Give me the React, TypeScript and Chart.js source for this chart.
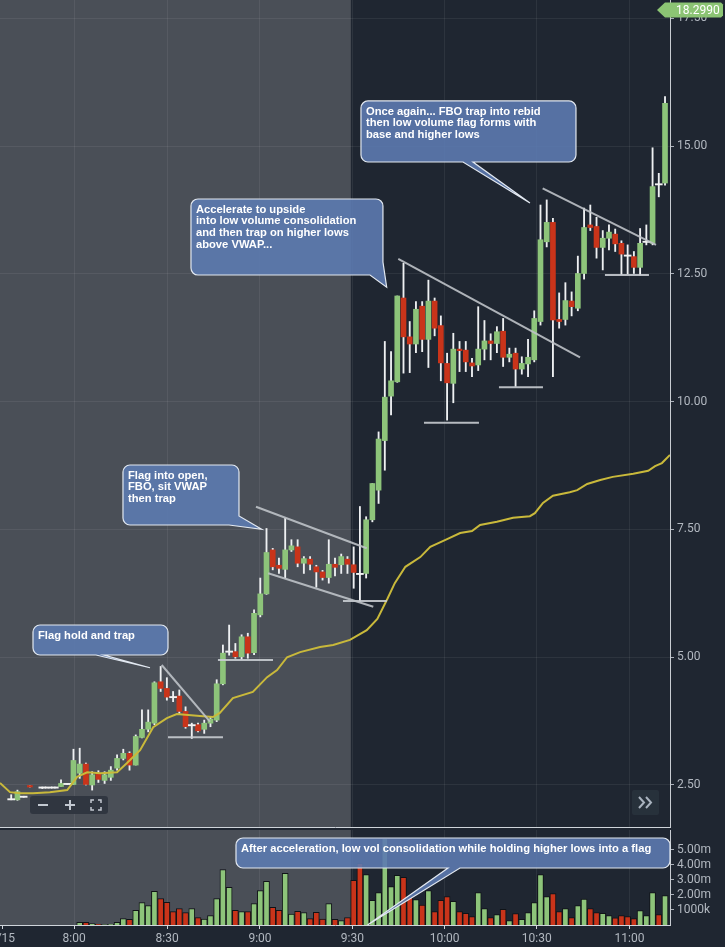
import React, { useEffect, useRef } from "react";
import { Chart, registerables } from "chart.js";

Chart.register(...registerables);

// ---------- DATA (2-minute bars, index 0 = 8:00) ----------
const barIndex = [-10, -9, -8, -7, -5, -4, -3, -2, -1, ...Array.from({ length: 96 }, (_, k) => k)];

const opens = [
  2.22, 2.21, 2.27, 2.49, 2.45, 2.45, 2.45, 2.47, 2.52,
  2.51, 2.73, 2.91, 2.50, 2.73, 2.59, 2.65, 2.83, 3.02, 3.12,
  2.89, 3.43, 3.59, 3.71, 4.52, 4.39, 4.225, 4.24, 3.94, 3.665,
  3.68, 3.59, 3.71, 3.77, 4.48, 5.105, 5.11, 5.01, 5.40, 5.09,
  5.83, 6.24, 7.10, 6.80, 6.72, 7.10, 7.16, 6.84, 6.92, 6.77,
  6.67, 6.56, 6.82, 6.81, 6.92, 6.81, 6.635, 6.64, 7.69, 8.27,
  9.24, 10.11, 10.39, 12.03, 11.27, 11.13, 11.87, 11.22, 11.97, 11.49,
  10.75, 10.36, 11.03, 11.01, 10.76, 10.72, 11.03, 11.19, 11.14, 11.38,
  10.87, 10.95, 10.64, 10.74, 10.82, 11.57, 13.13, 13.51, 11.61, 11.61,
  11.97, 11.83, 12.51, 13.46, 13.43, 13.02, 13.20, 13.28, 13.10, 12.865,
  12.84, 12.63, 13.125, 13.10, 14.26, 14.28,
];
const highs = [
  2.31, 2.40, 2.28, 2.49, 2.46, 2.45, 2.46, 2.60, 2.52,
  3.20, 3.22, 2.93, 2.76, 2.78, 2.76, 2.86, 3.09, 3.20, 3.15,
  3.48, 3.97, 3.97, 4.52, 4.82, 4.60, 4.33, 4.36, 4.03, 3.71,
  3.71, 3.77, 3.84, 4.56, 5.24, 5.63, 5.27, 5.44, 5.47, 5.93,
  6.55, 7.52, 7.13, 6.94, 7.72, 7.30, 7.30, 6.97, 6.97, 6.80,
  6.70, 7.30, 6.94, 7.02, 6.97, 7.16, 7.95, 7.75, 8.40, 9.41,
  11.18, 10.98, 12.07, 12.71, 11.57, 11.96, 11.96, 12.38, 12.03, 11.68,
  10.95, 11.34, 11.18, 11.18, 10.85, 11.86, 11.59, 11.33, 11.47, 11.63,
  11.05, 11.05, 10.88, 11.22, 11.78, 13.85, 13.95, 13.59, 12.13, 12.33,
  12.15, 12.85, 13.79, 13.85, 13.61, 13.35, 13.46, 13.38, 13.15, 13.07,
  12.94, 13.39, 13.46, 14.97, 14.47, 15.97,
];
const lows = [
  2.21, 2.20, 2.26, 2.46, 2.43, 2.44, 2.44, 2.47, 2.51,
  2.51, 2.63, 2.50, 2.40, 2.55, 2.53, 2.59, 2.79, 2.99, 2.79,
  2.89, 3.42, 3.54, 3.68, 4.33, 4.16, 4.13, 3.90, 3.61, 3.41,
  3.54, 3.51, 3.64, 3.74, 4.46, 5.04, 4.98, 4.96, 4.98, 5.05,
  5.79, 6.23, 6.71, 6.64, 6.55, 7.07, 6.77, 6.64, 6.71, 6.37,
  6.51, 6.45, 6.59, 6.64, 6.64, 6.35, 6.09, 6.55, 7.65, 8.01,
  8.66, 9.74, 10.38, 10.56, 10.57, 10.96, 10.98, 10.67, 11.29, 10.41,
  9.64, 9.98, 10.59, 10.59, 10.49, 10.61, 10.82, 10.82, 10.96, 10.69,
  10.78, 10.30, 10.54, 10.49, 10.78, 11.50, 13.03, 10.49, 11.44, 11.50,
  11.68, 11.78, 12.40, 13.35, 12.81, 12.58, 12.97, 12.94, 12.49, 12.50,
  12.51, 12.48, 13.07, 13.07, 14.01, 14.24,
];
const closes = [
  2.22, 2.37, 2.27, 2.46, 2.45, 2.45, 2.45, 2.53, 2.52,
  2.98, 2.91, 2.51, 2.70, 2.61, 2.70, 2.79, 3.02, 3.12, 2.89,
  3.45, 3.59, 3.73, 4.50, 4.39, 4.22, 4.22, 3.94, 3.64, 3.67,
  3.56, 3.71, 3.79, 4.48, 5.08, 5.11, 5.01, 5.40, 5.08, 5.86,
  6.24, 7.05, 6.77, 6.74, 7.10, 7.18, 6.84, 6.93, 6.82, 6.67,
  6.56, 6.82, 6.76, 6.97, 6.82, 6.66, 6.63, 7.69, 8.40, 9.27,
  10.09, 10.41, 12.07, 11.27, 11.13, 11.81, 11.22, 11.97, 11.44, 10.76,
  10.37, 11.03, 11.00, 10.78, 10.70, 11.03, 11.19, 11.14, 11.37, 10.87,
  10.93, 10.64, 10.75, 10.87, 11.63, 13.17, 13.51, 11.60, 11.57, 11.98,
  11.86, 12.51, 13.41, 13.41, 13.02, 13.20, 13.32, 13.09, 12.89, 12.86,
  12.63, 13.10, 13.13, 14.21, 14.255, 15.84,
];
// volume in millions
const volumes = [
  0, 0, 0, 0, 0, 0, 0, 0, 0,
  0, 0.18, 0.18, 0.10, 0.05, 0.02, 0.05, 0.18, 0.42, 0.38,
  0.98, 1.49, 1.29, 2.24, 1.76, 1.51, 0.89, 1.09, 0.82, 1.09,
  0.49, 0.40, 0.62, 1.76, 3.69, 2.51, 0.98, 0.89, 0.89, 1.42,
  2.29, 2.91, 1.18, 0.98, 3.44, 0.73, 0.91, 0.82, 0.42, 0.84,
  0.40, 1.42, 0.38, 0.29, 0.49, 2.98, 4.11, 3.36, 1.64, 2.16,
  5.78, 2.56, 3.31, 3.18, 1.84, 1.69, 1.33, 2.29, 0.89, 1.64,
  1.89, 1.58, 0.89, 0.78, 0.56, 2.16, 1.09, 0.49, 0.69, 1.04,
  0.29, 0.76, 0.38, 0.82, 1.49, 3.36, 1.89, 2.09, 0.89, 1.09,
  0.49, 1.29, 1.73, 1.09, 0.82, 0.78, 0.62, 0.47, 0.62, 0.56,
  0.42, 0.96, 0.62, 2.16, 0.69, 1.96,
];

const vwapIdx = [
  -11.8, -10.2, -8.6, -6.5, -3.8, -1.0, 0.6, 2.2, 4.3, 7.0, 8.6, 10.7, 12.8, 15.0, 16.6,
  20.3, 22.4, 23.5, 25.6, 28.8, 31.1, 32.7, 34.3, 36.4, 39.6, 41.7, 44.4, 47.1, 48.8,
  50.4, 51.6, 53.3, 55.7, 57.3, 60.0, 62.1, 64.0, 65.3, 68.0, 70.6, 73.3, 74.1, 75.4,
  77.0, 79.7, 80.9, 82.5, 84.6, 86.6, 89.9, 92.3, 93.4, 94.5, 95.8,
];
const vwapPrice = [
  2.54, 2.36, 2.34, 2.34, 2.36, 2.40, 2.66, 2.75, 2.73, 2.75, 2.93, 3.18, 3.63, 3.81, 3.89,
  3.85, 3.83, 3.91, 4.20, 4.32, 4.61, 4.75, 5.00, 5.10, 5.20, 5.24, 5.34, 5.53, 5.75,
  6.14, 6.45, 6.77, 6.96, 7.16, 7.31, 7.43, 7.47, 7.59, 7.65, 7.73, 7.76, 7.82, 8.02,
  8.16, 8.23, 8.27, 8.39, 8.47, 8.53, 8.59, 8.65, 8.74, 8.80, 8.96,
];

// drawn trend lines: [fromIdx, fromPrice, toIdx, toPrice]
const trendSegments = [
  [14.17, 4.848, 21.92, 3.739],
  [29.31, 7.946, 47.09, 7.132],
  [31.28, 6.643, 48.15, 5.989],
  [52.16, 12.794, 81.35, 10.87],
  [75.35, 14.177, 93.55, 13.068],
];
// horizontal support lines: [fromIdx, toIdx, price]
const supportLevels = [
  [15.18, 24.01, 3.433],
  [23.2, 32.04, 4.946],
  [43.28, 50.34, 6.101],
  [56.29, 65.12, 9.59],
  [68.33, 75.4, 10.283],
  [85.35, 92.42, 12.48],
];

const priceTicks = [2.5, 5, 7.5, 10, 12.5, 15, 17.5];
const volumeTicks = [1, 2, 3, 4, 5];
const volumeTickLabels = ["1000k", "2.00m", "3.00m", "4.00m", "5.00m"];
const timeTickPos = [-11.4, 0.1, 15.05, 29.95, 44.8, 59.6, 74.4, 89.3];
const timeTickLabels = ["7/15", "8:00", "8:30", "9:00", "9:30", "10:00", "10:30", "11:00"];
const lastPrice = 18.299;
const premarketEnd = 44.55;

// callouts: box [leftIdx, topVal, rightIdx, bottomVal]
const priceCallouts = [
  { lines: ["Flag hold and trap"], box: [-6.5, 5.631, 15.18, 5.044], tail: { kind: "bottom", a: 3.62, b: 4.9, tip: [12.29, 4.795] } },
  { lines: ["Flag into open,", "FBO, sit VWAP", "then trap"], box: [7.95, 8.762, 26.58, 7.588], tail: { kind: "br", a: 24.98, b: 7.764, tip: [30.23, 7.504] } },
  { lines: ["Accelerate to upside", "into low volume consolidation", "and then trap on higher lows", "above VWAP..."], box: [18.87, 13.968, 49.7, 12.48], tail: { kind: "br", a: 47.62, b: 12.735, tip: [50.3, 12.24] } },
  { lines: ["Once again... FBO trap into rebid", "then low volume flag forms with", "base and higher lows"], box: [46.17, 15.886, 80.7, 14.692], tail: { kind: "bottom", a: 62.56, b: 64.16, tip: [73.31, 13.889] } },
];
const volumeCallouts = [
  { lines: ["After acceleration, low vol consolidation while holding higher lows into a flag"], box: [26.1, 5.8, 95.8, 3.8], tail: { kind: "bottom", a: 60.14, b: 62.07, tip: [47.22, 0] } },
];

// ---------- STYLE ----------
const X_MIN = -11.8;
const X_MAX = 95.8;
const DARK = "#1f2631";
const GRAY = "#4a4f57";
const GRID = "rgba(255,255,255,0.065)";
const UP = "#8dc47a";
const DOWN = "#c9341a";
const AXIS_TXT = "#b2b8c0";
const TICK_FONT = { family: "Roboto, 'Liberation Sans', sans-serif", size: 12 };
const NOTE_FONT = "bold 11.2px 'Liberation Sans', Arial, sans-serif";

const isDoji = (k: number) => Math.abs(closes[k] - opens[k]) < 0.015;

function bubblePath(ctx: CanvasRenderingContext2D, L: number, T: number, R: number, B: number, r: number, tail: any, xs: any, ys: any) {
  const tx = xs.getPixelForValue(tail.tip[0]);
  const ty = ys.getPixelForValue(tail.tip[1]);
  ctx.beginPath();
  ctx.moveTo(L + r, T);
  ctx.lineTo(R - r, T);
  ctx.arcTo(R, T, R, T + r, r);
  if (tail.kind === "br") {
    const ax = xs.getPixelForValue(tail.a);
    const by = ys.getPixelForValue(tail.b);
    ctx.lineTo(R, by);
    ctx.lineTo(tx, ty);
    ctx.lineTo(ax, B);
  } else {
    const ax = xs.getPixelForValue(tail.a);
    const bx = xs.getPixelForValue(tail.b);
    ctx.lineTo(R, B - r);
    ctx.arcTo(R, B, R - r, B, r);
    ctx.lineTo(bx, B);
    ctx.lineTo(tx, ty);
    ctx.lineTo(ax, B);
  }
  ctx.lineTo(L + r, B);
  ctx.arcTo(L, B, L, B - r, r);
  ctx.lineTo(L, T + r);
  ctx.arcTo(L, T, L + r, T, r);
  ctx.closePath();
}

function drawCallouts(chart: any, list: any[]) {
  const { ctx, scales } = chart;
  const xs = scales.x;
  const ys = scales.y;
  ctx.save();
  for (const c of list) {
    const L = xs.getPixelForValue(c.box[0]);
    const T = ys.getPixelForValue(c.box[1]);
    const R = xs.getPixelForValue(c.box[2]);
    const B = ys.getPixelForValue(c.box[3]);
    bubblePath(ctx, L, T, R, B, 7, c.tail, xs, ys);
    ctx.fillStyle = "rgba(92,122,176,0.9)";
    ctx.fill();
    ctx.strokeStyle = "#e2e8f0";
    ctx.lineWidth = 1.2;
    ctx.stroke();
    ctx.fillStyle = "#ffffff";
    ctx.font = NOTE_FONT;
    ctx.textBaseline = "middle";
    ctx.textAlign = "left";
    c.lines.forEach((ln: string, j: number) => {
      ctx.fillText(ln, L + 5, T + 10.5 + j * 11.8);
    });
  }
  ctx.restore();
}

const bgPlugin = {
  id: "bgShade",
  beforeDraw(chart: any) {
    const { ctx, chartArea: a, scales } = chart;
    ctx.save();
    ctx.fillStyle = DARK;
    ctx.fillRect(0, 0, chart.width, chart.height);
    const xe = scales.x.getPixelForValue(premarketEnd);
    ctx.fillStyle = GRAY;
    ctx.fillRect(a.left, a.top, xe - a.left, a.bottom - a.top);
    ctx.restore();
  },
};

const priceNotesPlugin = {
  id: "priceNotes",
  afterDatasetsDraw(chart: any) {
    drawCallouts(chart, priceCallouts);
  },
  afterDraw(chart: any) {
    const { ctx, chartArea: a, scales } = chart;
    ctx.save();
    // zoom buttons
    const bx = a.left + 30, by = a.bottom - 31;
    ctx.fillStyle = "rgba(46,53,63,0.95)";
    ctx.beginPath();
    ctx.roundRect(bx, by, 78, 18, 3);
    ctx.fill();
    ctx.strokeStyle = "#c3c9d1";
    ctx.lineWidth = 2;
    ctx.beginPath();
    ctx.moveTo(bx + 8, by + 9); ctx.lineTo(bx + 18, by + 9);
    ctx.moveTo(bx + 35, by + 9); ctx.lineTo(bx + 45, by + 9);
    ctx.moveTo(bx + 40, by + 4); ctx.lineTo(bx + 40, by + 14);
    ctx.stroke();
    ctx.lineWidth = 1.5;
    const fx = bx + 61, fy = by + 4;
    ctx.beginPath();
    ctx.moveTo(fx, fy + 3); ctx.lineTo(fx, fy); ctx.lineTo(fx + 3, fy);
    ctx.moveTo(fx + 7, fy); ctx.lineTo(fx + 10, fy); ctx.lineTo(fx + 10, fy + 3);
    ctx.moveTo(fx + 10, fy + 7); ctx.lineTo(fx + 10, fy + 10); ctx.lineTo(fx + 7, fy + 10);
    ctx.moveTo(fx + 3, fy + 10); ctx.lineTo(fx, fy + 10); ctx.lineTo(fx, fy + 7);
    ctx.stroke();
    // scroll button
    const sx = a.right - 38, sy = a.bottom - 37;
    ctx.fillStyle = "rgba(40,49,60,0.95)";
    ctx.beginPath();
    ctx.roundRect(sx, sy, 27, 25, 2);
    ctx.fill();
    ctx.strokeStyle = "#a9b3bf";
    ctx.lineWidth = 2;
    ctx.beginPath();
    ctx.moveTo(sx + 7, sy + 7); ctx.lineTo(sx + 12, sy + 12.5); ctx.lineTo(sx + 7, sy + 18);
    ctx.moveTo(sx + 14, sy + 7); ctx.lineTo(sx + 19, sy + 12.5); ctx.lineTo(sx + 14, sy + 18);
    ctx.stroke();
    // last price tag
    const ty = Math.max(scales.y.getPixelForValue(lastPrice), a.top + 10);
    ctx.fillStyle = "#8cc474";
    ctx.beginPath();
    ctx.moveTo(a.right - 13, ty);
    ctx.lineTo(a.right - 5, ty - 7.5);
    ctx.lineTo(a.right + 51, ty - 7.5);
    ctx.lineTo(a.right + 53, ty - 5.5);
    ctx.lineTo(a.right + 53, ty + 5.5);
    ctx.lineTo(a.right + 51, ty + 7.5);
    ctx.lineTo(a.right - 5, ty + 7.5);
    ctx.closePath();
    ctx.fill();
    ctx.fillStyle = "#ffffff";
    ctx.font = "12px Roboto, 'Liberation Sans', sans-serif";
    ctx.textBaseline = "middle";
    ctx.textAlign = "left";
    ctx.fillText(lastPrice.toFixed(4), a.right + 6, ty + 0.5);
    ctx.restore();
  },
};

const volNotesPlugin = {
  id: "volNotes",
  afterDatasetsDraw(chart: any) {
    drawCallouts(chart, volumeCallouts);
  },
};

function timeAxis(showLabels: boolean, height: number) {
  return {
    type: "linear",
    min: X_MIN,
    max: X_MAX,
    offset: false,
    afterBuildTicks: (s: any) => {
      s.ticks = timeTickPos.map((v) => ({ value: v }));
    },
    afterFit: (s: any) => {
      s.height = height;
      s.paddingLeft = 0;
      s.paddingRight = 0;
    },
    ticks: {
      display: showLabels,
      autoSkip: false,
      maxRotation: 0,
      color: AXIS_TXT,
      font: TICK_FONT,
      padding: 3,
      callback: (_v: any, i: number) => timeTickLabels[i],
    },
    grid: {
      offset: false,
      color: (c: any) => (c.tick && c.tick.value < -5 ? "rgba(0,0,0,0)" : GRID),
      drawTicks: showLabels,
      tickLength: 4,
      tickColor: "#cfd4da",
    },
    border: { display: true, color: "#cfd4da", width: 1 },
  };
}

export default function App() {
  const priceRef = useRef<HTMLCanvasElement>(null);
  const volRef = useRef<HTMLCanvasElement>(null);

  useEffect(() => {
    document.body.style.margin = "0";
    document.body.style.background = DARK;

    const wickData = barIndex.map((b, k) => ({ x: b, y: [lows[k], highs[k]] }));
    const bodyData: any[] = [];
    const bodyColors: string[] = [];
    const dojiData: any[] = [];
    barIndex.forEach((b, k) => {
      if (isDoji(k)) {
        dojiData.push({ x: b, y: [closes[k] - 0.012, closes[k] + 0.012] });
      } else {
        bodyData.push({ x: b, y: [opens[k], closes[k]] });
        bodyColors.push(closes[k] >= opens[k] ? UP : DOWN);
      }
    });
    const vwapData = vwapIdx.map((x, k) => ({ x, y: vwapPrice[k] }));

    const lineSets: any[] = [];
    trendSegments.forEach((s) => {
      lineSets.push({
        type: "line",
        data: [{ x: s[0], y: s[1] }, { x: s[2], y: s[3] }],
        borderColor: "rgba(190,194,200,0.9)",
        borderWidth: 2,
        pointRadius: 0,
        order: 1,
      });
    });
    supportLevels.forEach((s) => {
      lineSets.push({
        type: "line",
        data: [{ x: s[0], y: s[2] }, { x: s[1], y: s[2] }],
        borderColor: "rgba(200,204,210,0.9)",
        borderWidth: 2,
        pointRadius: 0,
        order: 1,
      });
    });

    const priceChart = new Chart(priceRef.current as HTMLCanvasElement, {
      type: "bar",
      data: {
        datasets: [
          { type: "bar", data: wickData, backgroundColor: "#eef0f2", barThickness: 1.2, grouped: false, order: 5 } as any,
          { type: "bar", data: bodyData, backgroundColor: bodyColors, barThickness: 5, grouped: false, order: 4 } as any,
          { type: "bar", data: dojiData, backgroundColor: "#f2f2f2", barThickness: 7, grouped: false, order: 3 } as any,
          { type: "line", data: vwapData, borderColor: "#c9b93b", borderWidth: 2, pointRadius: 0, order: 2 } as any,
          ...lineSets,
        ],
      },
      options: {
        animation: false,
        responsive: false,
        maintainAspectRatio: false,
        devicePixelRatio: 1,
        layout: { padding: { left: 0, right: 0, top: 0, bottom: 2 } },
        plugins: { legend: { display: false }, tooltip: { enabled: false } },
        scales: {
          x: timeAxis(false, 0) as any,
          y: {
            type: "linear",
            position: "right",
            min: 1.678,
            max: 17.862,
            afterBuildTicks: (s: any) => {
              s.ticks = priceTicks.map((v) => ({ value: v }));
            },
            afterFit: (s: any) => {
              s.width = 55;
              s.paddingTop = 0;
              s.paddingBottom = 0;
            },
            ticks: {
              color: AXIS_TXT,
              font: TICK_FONT,
              padding: 3,
              callback: (v: any) => Number(v).toFixed(2),
            },
            grid: { color: GRID, drawTicks: true, tickLength: 4, tickColor: "#aab0ba" },
            border: { display: true, color: "#c8ccd2", width: 1 },
          } as any,
        },
      },
      plugins: [bgPlugin, priceNotesPlugin],
    });

    const volData: any[] = [];
    const volColors: string[] = [];
    barIndex.forEach((b, k) => {
      if (volumes[k] > 0) {
        volData.push({ x: b, y: volumes[k] });
        volColors.push(closes[k] >= opens[k] ? UP : DOWN);
      }
    });

    const volChart = new Chart(volRef.current as HTMLCanvasElement, {
      type: "bar",
      data: {
        datasets: [
          {
            type: "bar",
            data: volData,
            backgroundColor: volColors,
            borderColor: "#101317",
            borderWidth: 1,
            barThickness: 6,
            grouped: false,
          } as any,
        ],
      },
      options: {
        animation: false,
        responsive: false,
        maintainAspectRatio: false,
        devicePixelRatio: 1,
        layout: { padding: { left: 0, right: 0, top: 2, bottom: 0 } },
        plugins: { legend: { display: false }, tooltip: { enabled: false } },
        scales: {
          x: timeAxis(true, 22) as any,
          y: {
            type: "linear",
            position: "right",
            min: 0,
            max: 6.333,
            afterBuildTicks: (s: any) => {
              s.ticks = volumeTicks.map((v) => ({ value: v }));
            },
            afterFit: (s: any) => {
              s.width = 55;
              s.paddingTop = 0;
              s.paddingBottom = 0;
            },
            ticks: {
              color: AXIS_TXT,
              font: TICK_FONT,
              padding: 3,
              callback: (_v: any, i: number) => volumeTickLabels[i],
            },
            grid: { color: "rgba(0,0,0,0)", drawTicks: true, tickLength: 4, tickColor: "#aab0ba" },
            border: { display: true, color: "#c8ccd2", width: 1 },
          } as any,
        },
      },
      plugins: [bgPlugin, volNotesPlugin],
    });

    return () => {
      priceChart.destroy();
      volChart.destroy();
    };
  }, []);

  return (
    <div style={{ position: "relative", width: 725, height: 947, background: DARK, overflow: "hidden" }}>
      <canvas ref={priceRef} width={725} height={829} style={{ position: "absolute", left: 0, top: 0, width: 725, height: 829 }} />
      <canvas ref={volRef} width={725} height={119} style={{ position: "absolute", left: 0, top: 828, width: 725, height: 119 }} />
    </div>
  );
}
